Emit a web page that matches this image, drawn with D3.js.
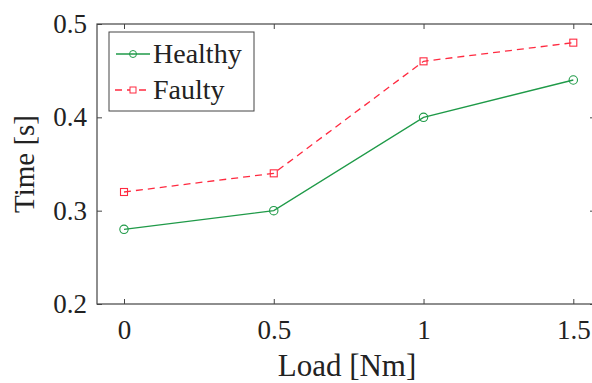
<!DOCTYPE html>
<html><head><meta charset="utf-8">
<script src="https://cdn.jsdelivr.net/npm/d3@7"></script>
<style>body{margin:0;background:#fff}svg{display:block}text{font-family:"Liberation Serif","Times New Roman",serif;fill:#222}</style>
</head><body><svg id="c" width="592" height="383"></svg>
<script>
const loads = [0, 0.5, 1, 1.5];
const healthy = [0.28, 0.30, 0.40, 0.44];
const faulty = [0.32, 0.34, 0.46, 0.48];
const xTicks = [0, 0.5, 1, 1.5];
const yTicks = [0.2, 0.3, 0.4, 0.5];

const svg = d3.select("#c");
const L = 97, R = 595, T = 24, B = 304;
const x = d3.scaleLinear().domain([0, 1.5]).range([124, 573.3]);
const y = d3.scaleLinear().domain([0.2, 0.5]).range([B, T]);
const serif = '"Liberation Serif","Times New Roman",serif';

const axColor = "#444";
svg.append("rect").attr("x", L).attr("y", T).attr("width", R - L).attr("height", B - T)
  .attr("fill", "none").attr("stroke", axColor).attr("stroke-width", 1.2);

const gx = svg.append("g").attr("transform", `translate(0,${B})`)
  .call(d3.axisBottom(x).tickValues(xTicks).tickSize(-5).tickPadding(16).tickFormat(d3.format("")));
gx.attr("font-family", serif);
gx.select(".domain").remove();
gx.selectAll("line").attr("stroke", axColor);
gx.selectAll("text").attr("font-size", 27).attr("fill", "#222");
const gxt = svg.append("g").attr("transform", `translate(0,${T})`)
  .call(d3.axisTop(x).tickValues(xTicks).tickSize(-5).tickFormat(""));
gxt.select(".domain").remove();
gxt.selectAll("line").attr("stroke", axColor);

const gy = svg.append("g").attr("transform", `translate(${L},0)`)
  .call(d3.axisLeft(y).tickValues(yTicks).tickSize(-5).tickPadding(10).tickFormat(d3.format(".1f")));
gy.attr("font-family", serif);
gy.select(".domain").remove();
gy.selectAll("line").attr("stroke", axColor);
gy.selectAll("text").attr("font-size", 27).attr("fill", "#222").attr("dy", "0.32em");
const gyr = svg.append("g").attr("transform", `translate(${R},0)`)
  .call(d3.axisRight(y).tickValues(yTicks).tickSize(-5).tickFormat(""));
gyr.select(".domain").remove();
gyr.selectAll("line").attr("stroke", axColor);

svg.append("text").attr("x", 347).attr("y", 376).attr("text-anchor", "middle")
  .attr("font-size", 31).text("Load [Nm]");
svg.append("text").attr("transform", `translate(34,${(T + B) / 2}) rotate(-90)`)
  .attr("text-anchor", "middle").attr("font-size", 29).text("Time [s]");

const green = "#1f9a48", red = "#ff2a40";
const line = d3.line().x(d => x(d[0])).y(d => y(d[1]));
const hData = loads.map((l, i) => [l, healthy[i]]);
const fData = loads.map((l, i) => [l, faulty[i]]);

svg.append("path").attr("d", line(fData)).attr("fill", "none").attr("stroke", red)
  .attr("stroke-width", 1.3).attr("stroke-dasharray", "7,5");
svg.append("path").attr("d", line(hData)).attr("fill", "none").attr("stroke", green)
  .attr("stroke-width", 1.3);

svg.selectAll(".fm").data(fData).enter().append("rect")
  .attr("x", d => x(d[0]) - 3.5).attr("y", d => y(d[1]) - 3.5)
  .attr("width", 7).attr("height", 7).attr("fill", "none").attr("stroke", red).attr("stroke-width", 1.1);
svg.selectAll(".hm").data(hData).enter().append("circle")
  .attr("cx", d => x(d[0])).attr("cy", d => y(d[1])).attr("r", 4.2)
  .attr("fill", "none").attr("stroke", green).attr("stroke-width", 1.1);

const lg = svg.append("g");
lg.append("rect").attr("x", 109).attr("y", 32).attr("width", 145).attr("height", 79)
  .attr("fill", "#fff").attr("stroke", axColor).attr("stroke-width", 1);
lg.append("line").attr("x1", 116).attr("x2", 150).attr("y1", 54).attr("y2", 54)
  .attr("stroke", green).attr("stroke-width", 1.3);
lg.append("circle").attr("cx", 133).attr("cy", 54).attr("r", 3.5).attr("fill", "none").attr("stroke", green);
lg.append("text").attr("x", 153).attr("y", 63).attr("font-size", 28).text("Healthy");
lg.append("line").attr("x1", 115).attr("x2", 151).attr("y1", 90).attr("y2", 90)
  .attr("stroke", red).attr("stroke-width", 1.3).attr("stroke-dasharray", "7,5");
lg.append("rect").attr("x", 130).attr("y", 87).attr("width", 6).attr("height", 6)
  .attr("fill", "#fff").attr("stroke", red);
lg.append("text").attr("x", 153).attr("y", 99).attr("font-size", 28).text("Faulty");
</script></body></html>
